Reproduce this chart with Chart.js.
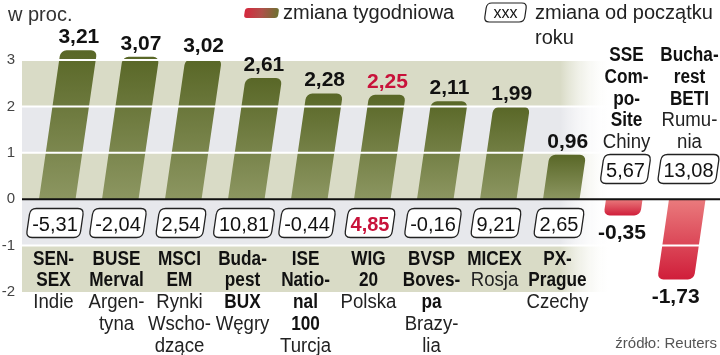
<!DOCTYPE html>
<html>
<head>
<meta charset="utf-8">
<script src="https://cdn.jsdelivr.net/npm/chart.js@4/dist/chart.umd.min.js"></script>
<style>
html,body{margin:0;padding:0;background:#fff;}
#wrap{width:720px;height:355px;}
</style>
</head>
<body>
<div id="wrap"><canvas id="c" width="720" height="355"></canvas></div>
<script>
// ---- data ----
const categories = ['SENSEX','BUSE Merval','MSCI EM','Budapest BUX','ISE National 100','WIG 20','BVSP Bovespa','MICEX','PX-Prague','SSE Composite','Bucharest BETI'];
const weeklyChange = [3.21, 3.07, 3.02, 2.61, 2.28, 2.25, 2.11, 1.99, 0.96, -0.35, -1.73];
const ytdChange = [-5.31, -2.04, 2.54, 10.81, -0.44, 4.85, -0.16, 9.21, 2.65, 5.67, 13.08];
const indexNameLines = [["SEN-","SEX"],["BUSE","Merval"],["MSCI","EM"],["Buda-","pest","BUX"],["ISE","Natio-","nal","100"],["WIG","20"],["BVSP","Boves-","pa"],["MICEX"],["PX-","Prague"],["SSE","Com-","po-","Site"],["Bucha-","rest","BETI"]];
const countryLines = [["Indie"],["Argen-","tyna"],["Rynki","Wscho-","dzące"],["Węgry"],["Turcja"],["Polska"],["Brazy-","lia"],["Rosja"],["Czechy"],["Chiny"],["Rumu-","nia"]];
const yTickValues = [-2, -1, 0, 1, 2, 3];
const highlightCategory = 'WIG 20';
const unitLabel = 'w proc.';
const legendWeekly = 'zmiana tygodniowa';
const legendYtdLines = ['zmiana od początku', 'roku'];
const sourceText = 'źródło: Reuters';

// ---- style ----
const FONT = "'Liberation Sans', Arial, sans-serif";
const SKEW = 0.145;
const PIVOT_OFFSET = 26; // px below zero line
const RED = '#c8123a';
const GREEN_BAND = '#d9dbc6';
const GRAY_BAND = '#e7e8ec';

function fmt(v){ return v.toFixed(2).replace('.', ','); }

function drawText(ctx, text, x, y, font, color, align, sx){
  ctx.save();
  ctx.font = font; ctx.fillStyle = color; ctx.textAlign = align; ctx.textBaseline = 'alphabetic';
  ctx.translate(x, y); ctx.scale(sx || 1, 1);
  ctx.fillText(text, 0, 0);
  ctx.restore();
}
function rrPath(ctx, x, y, w, h, r){
  ctx.beginPath();
  ctx.moveTo(x + r, y);
  ctx.lineTo(x + w - r, y); ctx.quadraticCurveTo(x + w, y, x + w, y + r);
  ctx.lineTo(x + w, y + h - r); ctx.quadraticCurveTo(x + w, y + h, x + w - r, y + h);
  ctx.lineTo(x + r, y + h); ctx.quadraticCurveTo(x, y + h, x, y + h - r);
  ctx.lineTo(x, y + r); ctx.quadraticCurveTo(x, y, x + r, y);
  ctx.closePath();
}
function skewedBox(ctx, cx, cy, w, h, r, fill, stroke, lw){
  ctx.save();
  ctx.transform(1, 0, -SKEW, 1, SKEW * cy, 0);
  rrPath(ctx, cx - w / 2, cy - h / 2, w, h, r);
  if (fill){ ctx.fillStyle = fill; ctx.fill(); }
  if (stroke){ ctx.strokeStyle = stroke; ctx.lineWidth = lw; ctx.stroke(); }
  ctx.restore();
}

const decorPlugin = {
  id: 'decor',
  beforeDraw(chart){
    const ctx = chart.ctx, y = chart.scales.y, left = chart.chartArea.left;
    const W = chart.width;
    for (let v = -2; v < 3; v++){
      const top = y.getPixelForValue(v + 1), bot = y.getPixelForValue(v);
      const base = ((v % 2) + 2) % 2 === 0 ? GRAY_BAND : GREEN_BAND;
      const isGreen = (v === 2 || v === 0 || v === -2);
      const col = isGreen ? GREEN_BAND : GRAY_BAND;
      const g = ctx.createLinearGradient(560, 0, 612, 0);
      g.addColorStop(0, col); g.addColorStop(1, 'rgba(255,255,255,0)');
      ctx.fillStyle = g;
      ctx.fillRect(left, top, W - left, bot - top);
    }
  },
  beforeDatasetsDraw(chart){
    const ctx = chart.ctx;
    const pivot = chart.scales.y.getPixelForValue(0) + PIVOT_OFFSET;
    ctx.save();
    ctx.transform(1, 0, -SKEW, 1, SKEW * pivot, 0);
  },
  afterDatasetsDraw(chart){
    const ctx = chart.ctx;
    ctx.restore();
    const ys = chart.scales.y, xs = chart.scales.x, left = chart.chartArea.left, W = chart.width;
    const zeroY = ys.getPixelForValue(0);
    const pivot = zeroY + PIVOT_OFFSET;
    // white grid lines over the bars
    ctx.save();
    ctx.strokeStyle = '#ffffff'; ctx.lineWidth = 2;
    yTickValues.forEach(v => {
      if (v === 0 || v === -2) return;
      const py = ys.getPixelForValue(v);
      ctx.beginPath(); ctx.moveTo(left, py); ctx.lineTo(W, py); ctx.stroke();
    });
    // zero line
    ctx.strokeStyle = '#111'; ctx.lineWidth = 2;
    ctx.beginPath(); ctx.moveTo(left, zeroY); ctx.lineTo(W, zeroY); ctx.stroke();
    ctx.restore();

    const meta = chart.getDatasetMeta(0);
    categories.forEach((cat, i) => {
      const xc = xs.getPixelForValue(i);
      const v = weeklyChange[i];
      const yEnd = ys.getPixelForValue(v);
      const shift = SKEW * (pivot - yEnd);
      const hl = cat === highlightCategory;
      // value labels
      if (v >= 0){
        drawText(ctx, fmt(v), xc + shift, yEnd - 7, 'bold 21px ' + FONT, hl ? RED : '#111', 'center', 1);
      } else {
        drawText(ctx, fmt(v), xc + shift, yEnd + 24, 'bold 21px ' + FONT, '#111', 'center', 1);
      }
      // year-to-date boxes and category labels
      const above = v < 0;
      const boxCy = above ? 169 : 223;
      const boxCx = xc + (above ? 5 : 1.5);
      const boxFont = (hl ? 'bold ' : '') + '20px ' + FONT;
      ctx.font = boxFont;
      const tw = ctx.measureText(fmt(ytdChange[i])).width;
      skewedBox(ctx, boxCx, boxCy, tw + 8, 29, 6, '#fff', '#222', 1.3);
      drawText(ctx, fmt(ytdChange[i]), boxCx, boxCy + 7.5, boxFont, hl ? RED : '#111', 'center', 1);

      const lines = indexNameLines[i].map(t => [t, true]).concat(countryLines[i].map(t => [t, false]));
      let by = above ? 61 : 264.5;
      const lx = xc + (above ? 6 : 0);
      lines.forEach(([t, b]) => {
        if (b) drawText(ctx, t, lx, by, 'bold 20px ' + FONT, '#111', 'center', 0.86);
        else drawText(ctx, t, lx, by, '20px ' + FONT, '#222', 'center', 0.93);
        by += 21.75;
      });
    });

    // header texts
    drawText(ctx, unitLabel, 8, 21, '20px ' + FONT, '#333', 'left', 1);
    // legend swatch
    ctx.save();
    const sg = ctx.createLinearGradient(243, 0, 280, 0);
    sg.addColorStop(0, '#d9243c'); sg.addColorStop(0.5, '#b0504a'); sg.addColorStop(1, '#66742f');
    skewedBox(ctx, 261.5, 13, 34, 10, 3, sg, null, 0);
    ctx.restore();
    drawText(ctx, legendWeekly, 283, 19, '20px ' + FONT, '#222', 'left', 1);
    skewedBox(ctx, 505.5, 12.5, 40, 19, 5, '#fff', '#222', 1.2);
    drawText(ctx, 'xxx', 505.5, 18, '16px ' + FONT, '#111', 'center', 1);
    drawText(ctx, legendYtdLines[0], 535, 19, '20px ' + FONT, '#222', 'left', 1);
    drawText(ctx, legendYtdLines[1], 535, 44, '20px ' + FONT, '#222', 'left', 1);
    drawText(ctx, sourceText, 717, 348, '15px ' + FONT, '#555', 'right', 1);
  }
};

function barColor(context){
  const chart = context.chart;
  if (!chart.chartArea) return '#6b7536';
  const v = context.raw;
  const ys = chart.scales.y;
  const y0 = ys.getPixelForValue(0), y1 = ys.getPixelForValue(v);
  const g = chart.ctx.createLinearGradient(0, y0, 0, y1 === y0 ? y0 + 1 : y1);
  if (v >= 0){ g.addColorStop(0, '#8c9661'); g.addColorStop(1, '#596727'); }
  else { g.addColorStop(0, '#ea7b7d'); g.addColorStop(1, '#d01e3a'); }
  return g;
}

new Chart(document.getElementById('c'), {
  type: 'bar',
  data: {
    labels: categories,
    datasets: [{
      data: weeklyChange,
      backgroundColor: barColor,
      borderWidth: 0,
      borderRadius: 6,
      borderSkipped: 'start',
      barPercentage: 0.58,
      categoryPercentage: 1,
      clip: false
    }]
  },
  options: {
    responsive: false,
    animation: false,
    devicePixelRatio: 1,
    layout: { padding: { top: 60, bottom: 63, left: 0, right: 5 } },
    plugins: { legend: { display: false }, tooltip: { enabled: false }, title: { display: false } },
    scales: {
      x: { display: false, offset: true },
      y: {
        min: -2, max: 3,
        afterFit(scale){ scale.width = 22; },
        afterBuildTicks(scale){ scale.ticks = yTickValues.map(v => ({ value: v })); },
        grid: { display: false, drawTicks: false },
        border: { display: false },
        ticks: { padding: 7, color: '#444', font: { family: FONT, size: 15 }, callback: v => String(v) }
      }
    }
  },
  plugins: [decorPlugin]
});
</script>
</body>
</html>
